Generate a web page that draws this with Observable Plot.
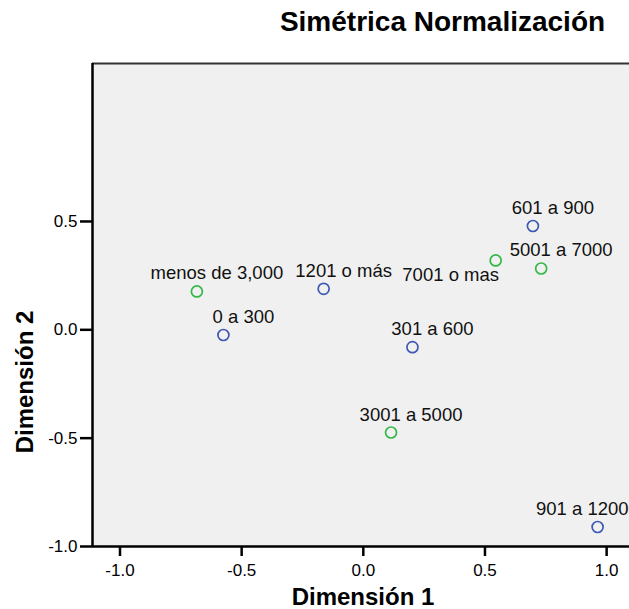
<!DOCTYPE html>
<html>
<head>
<meta charset="utf-8">
<script src="https://cdn.jsdelivr.net/npm/d3@7"></script>
<script src="https://cdn.jsdelivr.net/npm/@observablehq/plot@0.6"></script>
<style>
  html, body { margin: 0; padding: 0; background: #fff; overflow: hidden; }
  #wrap { position: relative; width: 629px; height: 609px; font-family: "Liberation Sans", Arial, sans-serif; }
  #title { position: absolute; top: 8px; left: 442.5px; transform: translateX(-50%); white-space: nowrap;
           font: bold 28px/28px "Liberation Sans", Arial, sans-serif; color: #000; }
  #chart { position: absolute; top: 0; left: 0; }
</style>
</head>
<body>
<div id="wrap">
  <div id="chart"></div>
  <div id="title">Simétrica Normalización</div>
</div>
<script>
// Category labels, group (row/column points) and coordinates
const labels = ["0 a 300", "301 a 600", "601 a 900", "901 a 1200", "1201 o más",
                "menos de 3,000", "3001 a 5000", "5001 a 7000", "7001 o mas"];
const groups = ["fila", "fila", "fila", "fila", "fila",
                "columna", "columna", "columna", "columna"];
const dim1 = [-0.575, 0.202, 0.697, 0.963, -0.163, -0.684, 0.114, 0.731, 0.544];
const dim2 = [-0.024, -0.080, 0.479, -0.910, 0.189, 0.177, -0.474, 0.283, 0.320];
const xTicks = [-1.0, -0.5, 0.0, 0.5, 1.0];
const yTicks = [-1.0, -0.5, 0.0, 0.5];
const xDomain = [-1.113, 1.094];
const yDomain = [-1.0, 1.229];
const xTitle = "Dimensión 1";
const yTitle = "Dimensión 2";
const leftShiftedLabel = "7001 o mas";
const edgeLabel = "901 a 1200";

const points = labels.map((label, i) => ({label, group: groups[i], x: dim1[i], y: dim2[i]}));

const font = "Liberation Sans, Arial, sans-serif";
const labelStyle = {x: "x", y: "y", text: "label", lineAnchor: "bottom", fontSize: 18.5, fill: "#111", fontFamily: font};

const plot = Plot.plot({
  width: 629,
  height: 609,
  marginLeft: 92,
  marginTop: 63,
  marginRight: 0,
  marginBottom: 63,
  style: {fontFamily: font, background: "transparent", overflow: "hidden"},
  x: {domain: xDomain},
  y: {domain: yDomain},
  color: {domain: ["fila", "columna"], range: ["#3e58b4", "#33b846"]},
  marks: [
    Plot.frame({fill: "#f0f0f0", stroke: "none"}),
    Plot.ruleY([yDomain[1]], {stroke: "#333", strokeWidth: 2}),
    Plot.ruleX([xDomain[0]], {stroke: "#000", strokeWidth: 2.5}),
    Plot.ruleY([yDomain[0]], {stroke: "#000", strokeWidth: 2.5}),
    Plot.axisX({ticks: xTicks, tickFormat: d => d.toFixed(1), tickSize: 10, tickPadding: 7.5,
                fontSize: 17, strokeWidth: 2.5, label: null, color: "#000"}),
    Plot.axisY({ticks: yTicks, tickFormat: d => d.toFixed(1), tickSize: 12, tickPadding: 3,
                fontSize: 17, strokeWidth: 2.5, label: null, color: "#000"}),
    Plot.dot(points, {x: "x", y: "y", stroke: "group", r: 5.5, strokeWidth: 1.7, fill: "none"}),
    Plot.text(points.filter(d => d.label !== leftShiftedLabel && d.label !== edgeLabel),
      {...labelStyle, dx: 20, dy: -12}),
    Plot.text(points.filter(d => d.label === leftShiftedLabel),
      {...labelStyle, dx: -45, dy: 21}),
    Plot.text(points.filter(d => d.label === edgeLabel),
      {...labelStyle, textAnchor: "end", dx: 31, dy: -12}),
    Plot.text([xTitle], {frameAnchor: "bottom", dx: 2, dy: 51, lineAnchor: "middle", textAnchor: "middle",
      fontSize: 24, fontWeight: "bold", fill: "#000", fontFamily: font}),
    Plot.text([yTitle], {frameAnchor: "left", dx: -67, dy: 77, rotate: -90, lineAnchor: "middle", textAnchor: "middle",
      fontSize: 24, fontWeight: "bold", fill: "#000", fontFamily: font})
  ]
});
document.getElementById("chart").appendChild(plot);
</script>
</body>
</html>
